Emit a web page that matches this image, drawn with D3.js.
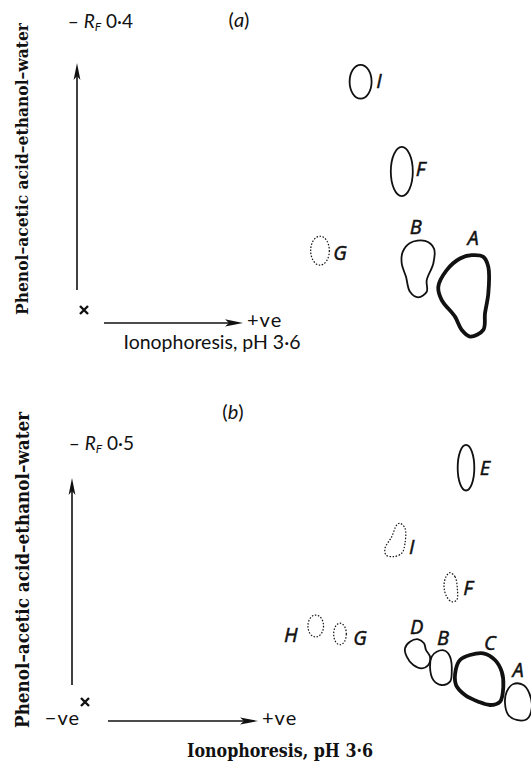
<!DOCTYPE html>
<html>
<head>
<meta charset="utf-8">
<script src="https://cdn.jsdelivr.net/npm/d3@7"></script>
<style>
  body { margin: 0; background: #fff; }
  svg { display: block; }
  .sans { font-family: Lato, "Open Sans", "DejaVu Sans", sans-serif; fill: #111; }
  .lbl { font-family: "Open Sans", Lato, "DejaVu Sans", sans-serif; font-style: italic; fill: #111; stroke: #111; stroke-width: 0.5; }
  .serif { font-family: "DejaVu Serif Condensed", "DejaVu Serif", "Liberation Serif", serif; font-weight: bold; fill: #111; }
</style>
</head>
<body>
<svg width="531" height="762"></svg>
<script>
// x: ionophoretic distance from origin (arbitrary mm), y: R_F
// panel (a)
const spotsA = [
  {name: "I", type: "ellipse", cx: 69.4, cy: 0.316, rx: 2.75, ry: 0.0234, line: "solid", label: [74, 0.317]},
  {name: "F", type: "ellipse", cx: 79.7, cy: 0.1917, rx: 2.75, ry: 0.034, line: "solid", label: [84.4, 0.196]},
  {name: "G", type: "ellipse", cx: 59.25, cy: 0.0821, rx: 2.33, ry: 0.02, line: "dotted", label: [64.25, 0.0786]},
  {name: "B", type: "blob", line: "solid", label: [83.2, 0.115], pts: [
    [81.75, 0.0928], [85.5, 0.0956], [87.75, 0.0851], [87.58, 0.0644], [85.93, 0.0414], [85.93, 0.0252],
    [83.83, 0.0175], [81.75, 0.0252], [80.75, 0.0459], [79.68, 0.0644], [79.93, 0.0804]]},
  {name: "A", type: "blob", line: "thick", label: [97.5, 0.0993], pts: [
    [97.18, 0.0759], [100.08, 0.0735], [101.33, 0.0597], [101.33, 0.023], [100.5, -0.0046], [100.08, -0.0276],
    [96.75, -0.0368], [94.68, -0.0276], [93, -0.0092], [89.68, 0.0138], [88.83, 0.0321], [90.93, 0.0552], [94.25, 0.0713]]}
];

// panel (b)
const spotsB = [
  {name: "E", type: "ellipse", cx: 95.5, cy: 0.4523, rx: 2.08, ry: 0.044, line: "solid", label: [100.25, 0.4517]},
  {name: "I", type: "blob", line: "dotted", label: [81.93, 0.2998], pts: [
    [79, 0.345], [80.25, 0.3353], [80.25, 0.3064], [79.43, 0.2871], [77.33, 0.2805], [75.5, 0.2838],
    [75.25, 0.2967], [76.93, 0.3191], [78.18, 0.3417]]},
  {name: "F", type: "blob", line: "dotted", label: [96, 0.22], pts: [
    [91.5, 0.2496], [92.75, 0.2419], [93.33, 0.2195], [93.18, 0.1969], [91.93, 0.1936], [90.68, 0.2033],
    [90, 0.2226], [90.5, 0.2419]]},
  {name: "H", type: "ellipse", cx: 57.93, cy: 0.1467, rx: 1.95, ry: 0.0212, line: "dotted", label: [51.68, 0.1293]},
  {name: "G", type: "ellipse", cx: 64, cy: 0.1313, rx: 1.58, ry: 0.0208, line: "dotted", label: [69, 0.1236]},
  {name: "D", type: "blob", line: "solid", label: [83.18, 0.1454], pts: [
    [81.5, 0.1164], [83.58, 0.121], [85, 0.1133], [85.5, 0.1004], [86.5, 0.0875], [86.08, 0.0714],
    [84.43, 0.0651], [82.33, 0.0714], [80.68, 0.0875], [80.25, 0.1037]]},
  {name: "B", type: "blob", line: "solid", label: [89.75, 0.1236], pts: [
    [88.18, 0.0971], [90.25, 0.099], [91.5, 0.0875], [91.93, 0.0554], [91.5, 0.0392], [89.43, 0.0328],
    [87.33, 0.0425], [86.5, 0.0681], [86.93, 0.0875]]},
  {name: "C", type: "blob", line: "thick", label: [101.5, 0.1139], pts: [
    [96.5, 0.0907], [99.83, 0.094], [102.75, 0.0811], [104.43, 0.0585], [104.83, 0.0295], [104, 0.0006],
    [101.5, -0.0058], [98.58, 0.0006], [95.25, 0.0135], [93, 0.0328], [92.93, 0.0618], [94, 0.0811]]},
  {name: "A", type: "blob", line: "solid", label: [108.5, 0.0618], pts: [
    [107.33, 0.0347], [109.83, 0.0328], [111.33, 0.0168], [111.93, -0.0122], [110.68, -0.0334], [108.18, -0.0347],
    [106.08, -0.0251], [105.25, -0.0025], [105.68, 0.0199]]}
];

const rfTicks = [0.4, 0.5];
const titles = ["(a)", "(b)"];
const yTitle = "Phenol\u2013acetic acid\u2013ethanol\u2013water";
const xTitle = "Ionophoresis, pH 3\u00b76";

const svg = d3.select("svg");

const panels = [
  {spots: spotsA, rf: rfTicks[0], title: titles[0], ox: 83, oy: 310, topY: 21, xUnit: 4,
   vArrow: [-1.5, 0.0276, 0.342], hArrow: [5.25, 40, -0.0179], minusVe: false,
   yTitleXY: [28, 169], yTitleLen: 292, yTitleSize: 17.5,
   titleXY: [239, 27], xTitleXY: [212, 349], xTitleLen: 177, xTitleClass: "sans"},
  {spots: spotsB, rf: rfTicks[1], title: titles[1], ox: 84, oy: 702, topY: 443, xUnit: 4,
   vArrow: [-3, 0.0328, 0.4324], hArrow: [6, 43.5, -0.0367], minusVe: true,
   yTitleXY: [29, 570], yTitleLen: 316, yTitleSize: 19,
   titleXY: [233, 419], xTitleXY: [280, 757], xTitleLen: 186, xTitleClass: "serif"}
];

function strokeW(s) { return s.line === "thick" ? 3.8 : s.line === "dotted" ? 1.2 : 1.8; }

panels.forEach(p => {
  const g = svg.append("g");
  const x = d3.scaleLinear().domain([0, 100]).range([p.ox, p.ox + 100 * p.xUnit]);
  const y = d3.scaleLinear().domain([0, p.rf]).range([p.oy, p.topY]);

  // vertical arrow
  const [vx, vy0, vy1] = p.vArrow;
  g.append("line")
    .attr("x1", x(vx)).attr("x2", x(vx))
    .attr("y1", y(vy0)).attr("y2", y(vy1) + 12)
    .attr("stroke", "#111").attr("stroke-width", 1.6);
  g.append("path")
    .attr("d", `M${x(vx)},${y(vy1)} L${x(vx) - 3.4},${y(vy1) + 17} L${x(vx)},${y(vy1) + 13} L${x(vx) + 3.4},${y(vy1) + 17}Z`)
    .attr("fill", "#111");

  // horizontal arrow
  const [hx0, hx1, hy] = p.hArrow;
  g.append("line")
    .attr("x1", x(hx0)).attr("x2", x(hx1) - 12)
    .attr("y1", y(hy)).attr("y2", y(hy))
    .attr("stroke", "#111").attr("stroke-width", 1.6);
  g.append("path")
    .attr("d", `M${x(hx1)},${y(hy)} L${x(hx1) - 18},${y(hy) - 3.6} L${x(hx1) - 14},${y(hy)} L${x(hx1) - 18},${y(hy) + 3.6}Z`)
    .attr("fill", "#111");

  // origin cross
  const cx0 = x(0.25), cy0 = y(0);
  g.append("path")
    .attr("d", `M${cx0 - 4},${cy0 - 4}L${cx0 + 4},${cy0 + 4}M${cx0 + 4},${cy0 - 4}L${cx0 - 4},${cy0 + 4}`)
    .attr("stroke", "#111").attr("stroke-width", 2.4);

  // +ve / -ve
  g.append("text").attr("class", "sans")
    .attr("x", x(hx1) + 4).attr("y", y(hy) + 4)
    .attr("font-size", 20).attr("letter-spacing", 1)
    .text("+ve");
  if (p.minusVe) {
    g.append("text").attr("class", "sans")
      .attr("x", x(hx0) - 28).attr("y", y(hy) + 4)
      .attr("text-anchor", "end")
      .attr("font-size", 20).attr("letter-spacing", 1)
      .text("\u2212ve");
  }

  // R_F tick label
  const rt = g.append("text").attr("class", "sans")
    .attr("x", x(-3.8)).attr("y", y(p.rf) + 7)
    .attr("font-size", 19);
  rt.append("tspan").text("\u2013 ");
  rt.append("tspan").attr("font-style", "italic").text("R");
  rt.append("tspan").attr("font-style", "italic").attr("font-size", 12).attr("dy", 3).text("F");
  rt.append("tspan").attr("dy", -3).text(" 0\u00b7" + String(p.rf).split(".")[1]);

  // titles
  const tt = g.append("text").attr("class", "sans")
    .attr("x", p.titleXY[0]).attr("y", p.titleXY[1])
    .attr("text-anchor", "middle").attr("font-size", 20);
  tt.append("tspan").text("(");
  tt.append("tspan").attr("font-style", "italic").text(p.title[1]);
  tt.append("tspan").text(")");

  g.append("text").attr("class", "serif")
    .attr("transform", `translate(${p.yTitleXY[0]},${p.yTitleXY[1]}) rotate(-90)`)
    .attr("text-anchor", "middle").attr("font-size", p.yTitleSize)
    .attr("textLength", p.yTitleLen).attr("lengthAdjust", "spacingAndGlyphs")
    .text(yTitle);

  g.append("text").attr("class", p.xTitleClass)
    .attr("x", p.xTitleXY[0]).attr("y", p.xTitleXY[1])
    .attr("text-anchor", "middle").attr("font-size", p.xTitleClass === "sans" ? 19 : 18.5)
    .attr("textLength", p.xTitleLen).attr("lengthAdjust", "spacingAndGlyphs")
    .text(xTitle);

  // spots
  const line = d3.line().x(d => x(d[0])).y(d => y(d[1])).curve(d3.curveCatmullRomClosed.alpha(0.5));
  const spot = g.selectAll(".spot").data(p.spots).join("g").attr("class", "spot");

  spot.filter(d => d.type === "ellipse").append("ellipse")
    .attr("cx", d => x(d.cx)).attr("cy", d => y(d.cy))
    .attr("rx", d => x(d.cx + d.rx) - x(d.cx))
    .attr("ry", d => y(d.cy - d.ry) - y(d.cy));
  spot.filter(d => d.type === "blob").append("path")
    .attr("d", d => line(d.pts));
  spot.selectAll("ellipse, path")
    .attr("fill", "none").attr("stroke", "#111")
    .attr("stroke-width", d => strokeW(d))
    .attr("stroke-dasharray", d => d.line === "dotted" ? "1.5,1.6" : null);

  spot.append("text").attr("class", "lbl")
    .attr("x", d => x(d.label[0])).attr("y", d => y(d.label[1]))
    .attr("dy", "0.36em")
    .attr("text-anchor", "middle")
    .attr("font-size", 20)
    .text(d => d.name);
});
</script>
</body>
</html>
